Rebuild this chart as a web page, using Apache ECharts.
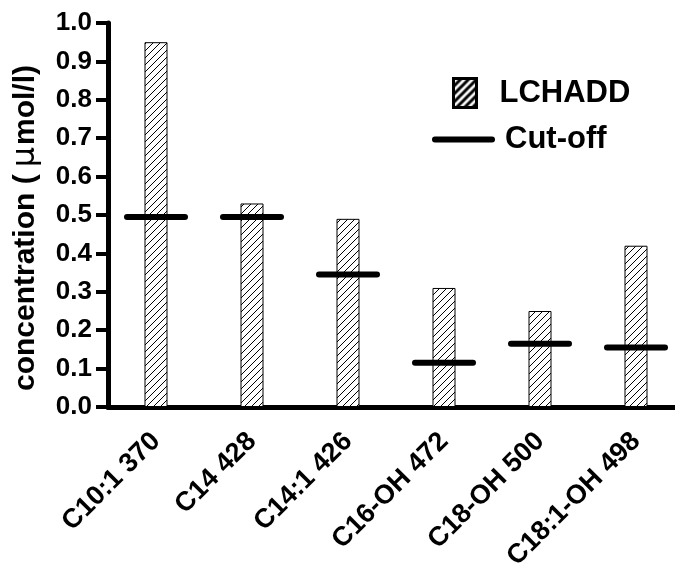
<!DOCTYPE html>
<html>
<head>
<meta charset="utf-8">
<script src="https://cdn.jsdelivr.net/npm/echarts@6/dist/echarts.min.js"></script>
<style>
  html, body { margin: 0; padding: 0; background: #fff; }
  #chart { width: 675px; height: 567px; }
</style>
</head>
<body>
<div id="chart"></div>
<script>
const categories = ['C10:1 370', 'C14 428', 'C14:1 426', 'C16-OH 472', 'C18-OH 500', 'C18:1-OH 498'];
const lchadd = [0.95, 0.53, 0.49, 0.31, 0.25, 0.42];
const cutoff = [0.495, 0.495, 0.345, 0.115, 0.165, 0.155];
const yTicks = [0, 0.1, 0.2, 0.3, 0.4, 0.5, 0.6, 0.7, 0.8, 0.9, 1.0];

// 斜线填充
function hatch(size, lw, bg) {
  const c = document.createElement('canvas');
  c.width = size; c.height = size;
  const ctx = c.getContext('2d');
  ctx.fillStyle = bg;
  ctx.fillRect(0, 0, size, size);
  ctx.strokeStyle = '#000';
  ctx.lineWidth = lw;
  ctx.beginPath();
  ctx.moveTo(-1, size + 1); ctx.lineTo(size + 1, -1);
  ctx.moveTo(-1, 1); ctx.lineTo(1, -1);
  ctx.moveTo(size - 1, size + 1); ctx.lineTo(size + 1, size - 1);
  ctx.stroke();
  return c;
}

const font = 'Liberation Sans, Arial, sans-serif';
const capsule = 'path://M3,0 H61 A3,3 0 0 1 61,6 H3 A3,3 0 0 1 3,0 Z';

const chart = echarts.init(document.getElementById('chart'));
chart.setOption({
  animation: false,
  backgroundColor: '#fff',
  grid: { left: 108, right: -9, top: 23, bottom: 160, outerBoundsMode: 'none', containLabel: false },
  legend: [
    {
      left: 452, top: 77, padding: 0,
      itemWidth: 23, itemHeight: 29,
      data: [{
        name: 'LCHADD',
        icon: 'rect',
        itemStyle: { color: { image: hatch(8, 3, '#fff'), repeat: 'repeat' }, borderColor: '#000', borderWidth: 3 }
      }],
      textStyle: { fontFamily: font, fontWeight: 'bold', fontSize: 31, color: '#000', padding: [0, 0, 0, 18] }
    },
    {
      left: 432, top: 124, padding: 0,
      itemWidth: 63, itemHeight: 6,
      data: [{ name: 'Cut-off', icon: capsule }],
      textStyle: { fontFamily: font, fontWeight: 'bold', fontSize: 31, color: '#000', padding: [0, 0, 0, 5] }
    }
  ],
  xAxis: {
    type: 'category',
    data: categories,
    axisLine: { lineStyle: { color: '#000', width: 5 } },
    axisTick: { show: false },
    axisLabel: {
      rotate: 45, margin: 30, interval: 0,
      fontFamily: font, fontWeight: 'bold', fontSize: 27, color: '#000'
    }
  },
  yAxis: {
    type: 'value',
    min: 0, max: 1, interval: 0.1,
    name: 'concentration ({mu|μ}mol/l)',
    nameLocation: 'middle',
    nameGap: 66,
    nameTextStyle: {
      fontFamily: font, fontWeight: 'bold', fontSize: 30, color: '#000',
      padding: [0, 26, 0, 0],
      rich: { mu: { fontFamily: 'DejaVu Sans, sans-serif', fontWeight: 'normal', fontSize: 32, color: '#000', padding: [0, 2, 0, 7] } }
    },
    axisLine: { show: true, lineStyle: { color: '#000', width: 5 } },
    axisTick: { show: true, length: 12, lineStyle: { color: '#000', width: 4 } },
    splitLine: { show: false },
    axisLabel: {
      margin: 16,
      fontFamily: font, fontWeight: 'bold', fontSize: 26, color: '#000',
      formatter: v => yTicks.includes(+v.toFixed(1)) ? v.toFixed(1) : ''
    }
  },
  series: [
    {
      name: 'LCHADD',
      type: 'bar',
      data: lchadd,
      barWidth: 23,
      itemStyle: {
        color: { image: hatch(7, 1, '#fff'), repeat: 'repeat' },
        borderColor: '#000',
        borderWidth: 1
      },
      z: 2
    },
    {
      name: 'Cut-off',
      type: 'scatter',
      data: cutoff,
      symbol: capsule,
      symbolSize: [64, 6],
      itemStyle: { color: '#000', opacity: 1 },
      z: 5
    }
  ]
});
</script>
</body>
</html>
